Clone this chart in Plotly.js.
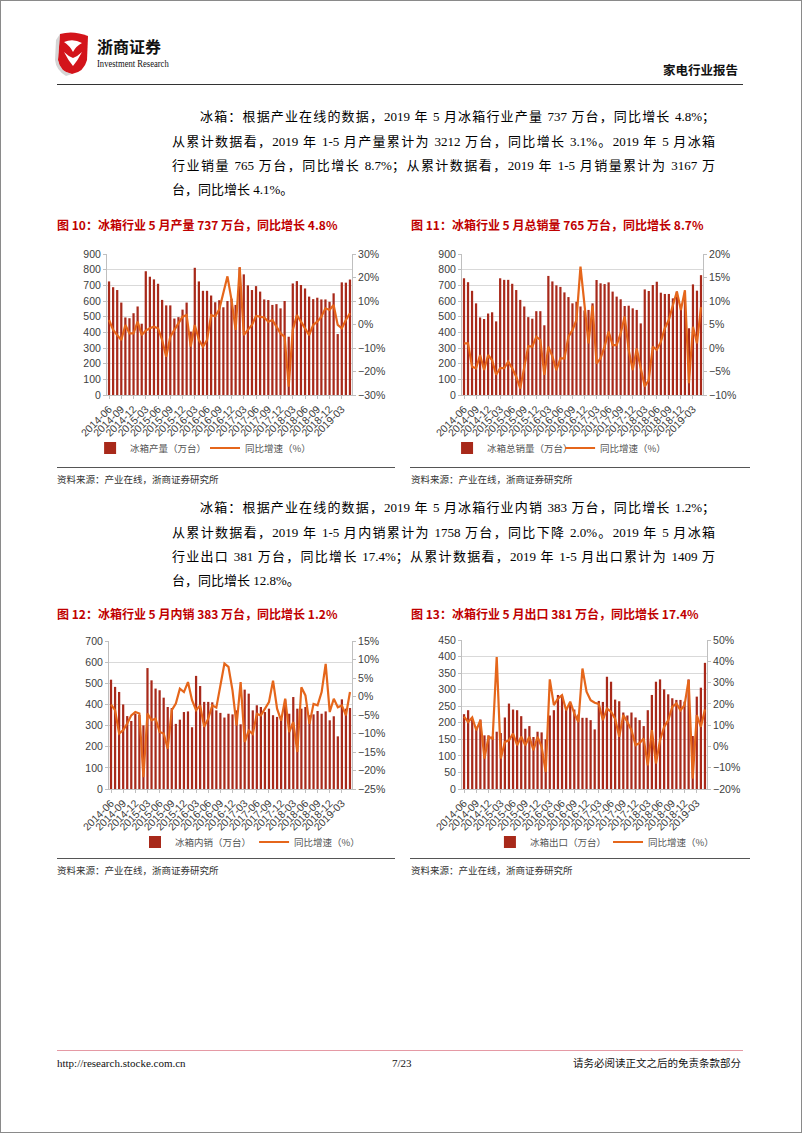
<!DOCTYPE html>
<html><head><meta charset="utf-8">
<script src="https://cdn.plot.ly/plotly-3.0.1.min.js"></script>
<style>
body{margin:0;background:#fff;}
#page{position:relative;width:802px;height:1133px;overflow:hidden;background:#fff;}
#frame{position:absolute;left:0;top:0;width:802px;height:1133px;box-sizing:border-box;border:1px solid #8a8a8a;pointer-events:none;}
.abs{position:absolute;white-space:nowrap;}
.body{position:absolute;font-family:'Liberation Serif','Noto Sans CJK SC',serif;font-size:13px;color:#000;line-height:16px;}
.jl{text-align:justify;text-align-last:justify;}
.ttl{position:absolute;white-space:nowrap;font-family:'Noto Sans CJK SC',sans-serif;font-weight:bold;font-size:12px;color:#C00000;line-height:14px;}
.src{position:absolute;white-space:nowrap;font-family:'Noto Sans CJK SC',sans-serif;font-size:9.5px;color:#333;line-height:12px;}
.hr{position:absolute;height:0;}
.chart{position:absolute;}
</style></head>
<body><div id="page">

<svg class="abs" style="left:54px;top:30px" width="38" height="46" viewBox="0 0 38 46">
  <path d="M6 4 Q19 0 34 6 L33 30 Q30 42 18 44 Q6 42 4 30 Z" fill="#d3141b"/>
  <path d="M10 12 Q19 8 28 13 Q22 16 19 22 Q16 16 10 12 Z" fill="#fff"/>
  <path d="M10 22 Q14 30 19 36 Q24 30 28 22 Q24 26 19 28 Q14 26 10 22 Z" fill="#fff"/>
  <path d="M2 10 L6 4 L4 30 Q6 42 18 44 L12 46 Q2 40 1 30 Z" fill="#b9b9b9" opacity="0.6"/>
</svg>
<div class="abs" style="left:97px;top:37px;font-family:'Noto Sans CJK SC';font-weight:bold;font-size:16px;line-height:18px;color:#111;">浙商证券</div>
<div class="abs" style="left:97px;top:57px;font-family:'Liberation Serif';font-size:11px;line-height:12px;color:#111;transform:scaleX(0.78);transform-origin:left top;">Investment Research</div>
<div class="abs" style="left:663px;top:62px;font-family:'Noto Sans CJK SC';font-weight:bold;font-size:12.5px;line-height:15px;color:#111;">家电行业报告</div>
<div class="hr" style="left:57px;top:84px;width:686px;border-top:1px solid #333;"></div>

<div class="body jl" style="left:200px;top:109px;width:515px;">冰箱：根据产业在线的数据，2019 年 5 月冰箱行业产量 737 万台，同比增长 4.8%；</div>
<div class="body jl" style="left:172px;top:134px;width:543px;">从累计数据看，2019 年 1-5 月产量累计为 3212 万台，同比增长 3.1%。2019 年 5 月冰箱</div>
<div class="body jl" style="left:172px;top:158px;width:543px;">行业销量 765 万台，同比增长 8.7%；从累计数据看，2019 年 1-5 月销量累计为 3167 万</div>
<div class="body" style="left:172px;top:182px;white-space:nowrap;">台，同比增长 4.1%。</div>

<div class="ttl" style="left:57px;top:218px;">图 10：冰箱行业 5 月产量 737 万台，同比增长 4.8%</div>
<div class="ttl" style="left:411px;top:218px;">图 11：冰箱行业 5 月总销量 765 万台，同比增长 8.7%</div>

<div id="c10" class="chart" style="left:40px;top:235px;"></div>
<div id="c11" class="chart" style="left:395px;top:235px;"></div>

<div class="hr" style="left:57px;top:467px;width:338px;border-top:1px solid #555;"></div>
<div class="hr" style="left:410px;top:467px;width:340px;border-top:1px solid #555;"></div>
<div class="src" style="left:57px;top:473px;">资料来源：产业在线，浙商证券研究所</div>
<div class="src" style="left:411px;top:473px;">资料来源：产业在线，浙商证券研究所</div>

<div class="body jl" style="left:200px;top:500px;width:515px;">冰箱：根据产业在线的数据，2019 年 5 月冰箱行业内销 383 万台，同比增长 1.2%；</div>
<div class="body jl" style="left:172px;top:525px;width:543px;">从累计数据看，2019 年 1-5 月内销累计为 1758 万台，同比下降 2.0%。2019 年 5 月冰箱</div>
<div class="body jl" style="left:172px;top:549px;width:543px;">行业出口 381 万台，同比增长 17.4%；从累计数据看，2019 年 1-5 月出口累计为 1409 万</div>
<div class="body" style="left:172px;top:573px;white-space:nowrap;">台，同比增长 12.8%。</div>

<div class="ttl" style="left:57px;top:607px;">图 12：冰箱行业 5 月内销 383 万台，同比增长 1.2%</div>
<div class="ttl" style="left:411px;top:607px;">图 13：冰箱行业 5 月出口 381 万台，同比增长 17.4%</div>

<div id="c12" class="chart" style="left:40px;top:622px;"></div>
<div id="c13" class="chart" style="left:395px;top:621px;"></div>

<div class="hr" style="left:57px;top:858px;width:338px;border-top:1px solid #555;"></div>
<div class="hr" style="left:410px;top:858px;width:340px;border-top:1px solid #555;"></div>
<div class="src" style="left:57px;top:864px;">资料来源：产业在线，浙商证券研究所</div>
<div class="src" style="left:411px;top:864px;">资料来源：产业在线，浙商证券研究所</div>

<div class="hr" style="left:57px;top:1050px;width:686px;border-top:1px solid #e59aa5;"></div>
<div class="abs" style="left:57px;top:1057px;font-family:'Liberation Serif';font-size:11px;line-height:13px;color:#111;">http://research.stocke.com.cn</div>
<div class="abs" style="left:392px;top:1057px;font-family:'Liberation Serif';font-size:11px;line-height:13px;color:#111;">7/23</div>
<div class="abs" style="left:573px;top:1056px;font-family:'Noto Sans CJK SC';font-size:10.5px;line-height:13px;color:#111;">请务必阅读正文之后的免责条款部分</div>

<div id="frame"></div>
</div>
<script>
const months = ["2014-06","2014-07","2014-08","2014-09","2014-10","2014-11","2014-12",
"2015-01","2015-02","2015-03","2015-04","2015-05","2015-06","2015-07","2015-08","2015-09","2015-10","2015-11","2015-12",
"2016-01","2016-02","2016-03","2016-04","2016-05","2016-06","2016-07","2016-08","2016-09","2016-10","2016-11","2016-12",
"2017-01","2017-02","2017-03","2017-04","2017-05","2017-06","2017-07","2017-08","2017-09","2017-10","2017-11","2017-12",
"2018-01","2018-02","2018-03","2018-04","2018-05","2018-06","2018-07","2018-08","2018-09","2018-10","2018-11","2018-12",
"2019-01","2019-02","2019-03","2019-04","2019-05"];
const tickLabels = ["2014-06","2014-09","2014-12","2015-03","2015-06","2015-09","2015-12","2016-03","2016-06","2016-09",
"2016-12","2017-03","2017-06","2017-09","2017-12","2018-03","2018-06","2018-09","2018-12","2019-03"];

// 图10 冰箱产量（万台） / 同比增速（%）
const prod10 = [725,688,670,590,495,490,522,565,455,790,755,738,710,607,572,572,488,497,545,590,
405,812,725,665,665,635,592,605,560,600,615,575,815,770,700,670,695,660,610,606,
575,580,553,600,372,712,727,702,680,628,612,621,610,610,595,649,389,719,717,737];
const yoy10 = [1.9,-2.3,-4.5,-6.6,-0.2,-3.8,-3.8,1.2,-4.5,-2.6,-1.6,-0.9,-1.6,-6.6,-13.7,-5.2,-2.3,0.5,3.3,4.0,
-9.4,-0.2,-6.6,-9.4,-6.6,4.0,3.5,6.5,13.5,20.5,10.4,-2.3,24.3,-4.5,-2.3,-0.2,3.6,3.3,3.0,1.2,
1.9,-0.9,-3.8,-5.2,-26.5,-2.3,4.0,1.2,-1.6,-4.5,-0.2,1.2,3.3,6.9,6.2,8.3,-0.2,-1.6,1.9,4.8];

// 图11 冰箱总销量（万台） / 同比增速（%）
const sales11 = [745,720,665,585,495,485,520,528,470,745,735,735,710,670,607,565,497,487,535,535,
445,760,725,700,690,655,625,585,595,565,540,543,585,734,713,708,719,660,628,611,
568,570,553,543,457,674,664,702,723,653,645,645,617,660,564,655,426,706,666,765];
const yoy11 = [1.0,1.0,-4.0,-4.3,-1.5,-4.7,-1.5,-2.6,-5.7,-4.3,-4.3,-2.9,-4.3,-6.1,-8.6,-4.0,0.4,0.3,2.4,1.7,
-5.7,0.3,-1.8,-4.7,-2.2,-2.2,2.4,3.8,6.0,17.3,8.8,1.0,9.0,-3.3,-2.2,0.3,3.5,0.6,0.6,3.1,
6.7,-0.4,-4.7,-0.1,-4.3,-8.2,-6.8,0.3,-0.4,1.3,4.2,6.0,9.1,12.0,8.1,12.3,-7.5,4.5,1.0,8.7];

// 图12 冰箱内销（万台） / 同比增速（%）
const dom12 = [517,483,459,400,345,322,356,350,301,572,514,475,467,432,388,383,308,328,364,367,
292,535,487,412,412,410,372,360,338,356,353,372,306,470,451,372,396,388,364,380,
349,341,333,423,356,435,380,380,388,349,353,369,356,367,325,344,249,424,380,383];
const yoy12 = [-2.2,-3.7,-10.0,-9.1,-7.3,-5.1,-4.2,-4.6,-21.8,-4.6,-6.4,-6.0,-9.6,-10.0,-14.1,-3.7,-1.9,2.1,1.2,3.9,
-1.0,-3.7,-2.4,-8.2,-6.0,-2.4,-3.0,3.5,8.9,8.0,1.6,-7.8,3.9,-12.3,-9.2,-10.1,-4.7,-5.1,-3.3,-1.5,
4.3,-3.3,-6.5,-0.6,-9.6,-6.9,-15.0,2.5,0.3,-7.4,-2.0,-2.4,1.2,8.8,-4.2,-0.6,-2.9,-2.4,-5.1,1.2];

// 图13 冰箱出口（万台） / 同比增速（%）
const exp13 = [226,238,210,188,210,162,162,159,173,169,216,258,240,238,220,182,190,157,173,171,
150,222,238,284,280,245,256,240,225,215,215,208,180,266,263,339,324,270,265,231,
222,231,216,208,190,238,284,324,331,301,286,274,269,269,264,331,160,279,306,381];
const yoy13 = [14.0,11.5,13.6,7.6,12.3,-5.7,4.5,3.7,42.0,-5.7,2.1,2.9,6.0,0.6,4.5,0.6,4.5,-1.8,4.5,-0.2,
-12.0,31.5,19.4,22.5,24.1,17.0,21.0,15.5,11.5,36.6,25.7,21.7,20.5,20.0,12.3,17.8,16.3,13.0,4.5,14.7,
11.5,7.6,0.6,1.6,3.7,-8.9,7.6,-8.0,2.9,9.2,12.3,18.6,20.2,17.0,19.4,31.2,-15.1,14.7,9.2,17.4];

const BAR = '#A8291A', LINE = '#E5661B', AXC = '#BFBFBF', TXT = '#404040';
const tf = {family:'Liberation Sans, Arial, sans-serif', size:10.5, color:TXT};
const lf = {family:'Noto Sans CJK SC, sans-serif', size:9.5, color:'#555'};

function makeChart(id, bars, line, barName, lineName, yl, yr, d){
  const traces = [
    {type:'bar', x:months, y:bars, name:barName, marker:{color:BAR}, yaxis:'y', legend:'legend', hoverinfo:'skip'},
    {type:'scatter', mode:'lines', x:months, y:line, name:lineName, yaxis:'y2', legend:'legend2',
     line:{color:LINE, width:2.2}, hoverinfo:'skip'}
  ];
  const ph = d.h - d.t - d.b;
  const ly = -(d.legY)/ph;
  const layout = {
    width:d.w, height:d.h, margin:{l:d.l, r:d.r, t:d.t, b:d.b, autoexpand:false},
    paper_bgcolor:'rgba(0,0,0,0)', plot_bgcolor:'rgba(0,0,0,0)',
    bargap:0.45, showlegend:true,
    legend:{orientation:'h', x:d.lx1, xanchor:'left', y:ly, yanchor:'middle', font:lf, bgcolor:'rgba(0,0,0,0)'},
    legend2:{orientation:'h', x:d.lx2, xanchor:'left', y:ly, yanchor:'middle', font:lf, bgcolor:'rgba(0,0,0,0)'},
    xaxis:{type:'category', tickmode:'array', tickvals:tickLabels, ticktext:tickLabels, tickangle:-45,
      tickfont:tf, showline:true, linecolor:AXC, linewidth:1, ticks:'outside', ticklen:3, tickcolor:AXC,
      showgrid:false, zeroline:false, fixedrange:true},
    yaxis:{range:yl.range, dtick:yl.dtick, tick0:0, showgrid:true, gridcolor:'#D9D9D9', gridwidth:1,
      showline:true, linecolor:AXC, ticks:'outside', ticklen:3, tickcolor:AXC, zeroline:false,
      tickfont:tf, fixedrange:true},
    yaxis2:{overlaying:'y', side:'right', range:yr.range, dtick:yr.dtick, tick0:0, ticksuffix:'%',
      showgrid:false, zeroline:false, showline:true, linecolor:AXC, ticks:'outside', ticklen:3, tickcolor:AXC,
      tickfont:tf, fixedrange:true}
  };
  Plotly.newPlot(id, traces, layout, {displayModeBar:false, staticPlot:true});
}

makeChart('c10', prod10, yoy10, '冰箱产量（万台）', '同比增速（%）',
  {range:[0,900], dtick:100}, {range:[-30,30], dtick:10},
  {w:370, h:240, l:67, r:58, t:19, b:80, lx1:-0.069, lx2:0.40, legY:53});
makeChart('c11', sales11, yoy11, '冰箱总销量（万台）', '同比增速（%）',
  {range:[0,900], dtick:100}, {range:[-10,20], dtick:5},
  {w:370, h:240, l:67, r:62, t:19, b:80, lx1:-0.062, lx2:0.407, legY:53});
makeChart('c12', dom12, yoy12, '冰箱内销（万台）', '同比增速（%）',
  {range:[0,700], dtick:100}, {range:[-25,15], dtick:5},
  {w:370, h:250, l:69, r:58, t:19, b:83, lx1:0.107, lx2:0.597, legY:53});
makeChart('c13', exp13, yoy13, '冰箱出口（万台）', '同比增速（%）',
  {range:[0,450], dtick:50}, {range:[-20,50], dtick:10},
  {w:370, h:250, l:67, r:58, t:19, b:82, lx1:0.114, lx2:0.596, legY:53});
</script>
</body></html>
